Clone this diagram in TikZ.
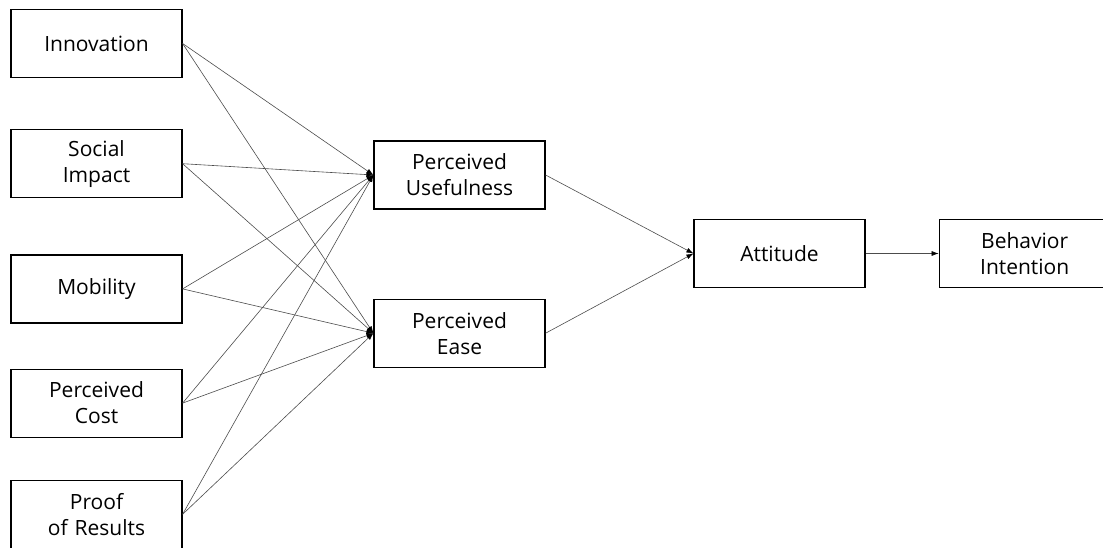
\documentclass[tikz,border=0pt]{standalone}
\usepackage{fontspec}
\setmainfont{Open Sans}
\usetikzlibrary{positioning, arrows.meta}

\begin{document}
\begin{tikzpicture}[
		x=1pt, y=-1pt,
		box/.style={rectangle, draw, line width=1.2pt, minimum width=171pt, minimum height=68pt, text width=165pt, text centered, inner sep=0pt, font=\fontsize{21}{26}\selectfont},
		link/.style={draw=black!70, line width=0.6pt, -{Latex[length=7pt,width=5pt,color=black]}}
		]
		\useasboundingbox (0,0) rectangle (1103,548);
		
		% Nodes
		\node (inno) [box] at (96.5,43.5) {Innovation};
		\node (social) [box, below=51pt of inno] {Social\\Impact};
		\node (mobil) [box, below=56pt of social] {Mobility};
		\node (cost) [box, below=45pt of mobil] {Perceived\\Cost};
		\node (proof) [box, below=42pt of cost] {Proof\\of Results};
		\node (useful) [box] at (459.5,175) {Perceived\\Usefulness};
		\node (ease) [box, below=89pt of useful] {Perceived\\Ease};
		\node (atti) [box] at (779.5,253.5) {Attitude};
		\node (behav) [box, right=73pt of atti] {Behavior\\Intention};
		
		% Arrows
		\foreach \src in {inno, social, mobil, cost, proof}{
			\draw [link] (\src.east) -- (useful.west);
			\draw [link] (\src.east) -- (ease.west);
		}
		\draw [link] (useful.east) -- (atti.west);
		\draw [link] (ease.east) -- (atti.west);
		\draw [link] (atti.east) -- (behav.west);
		
	\end{tikzpicture}
\end{document}
